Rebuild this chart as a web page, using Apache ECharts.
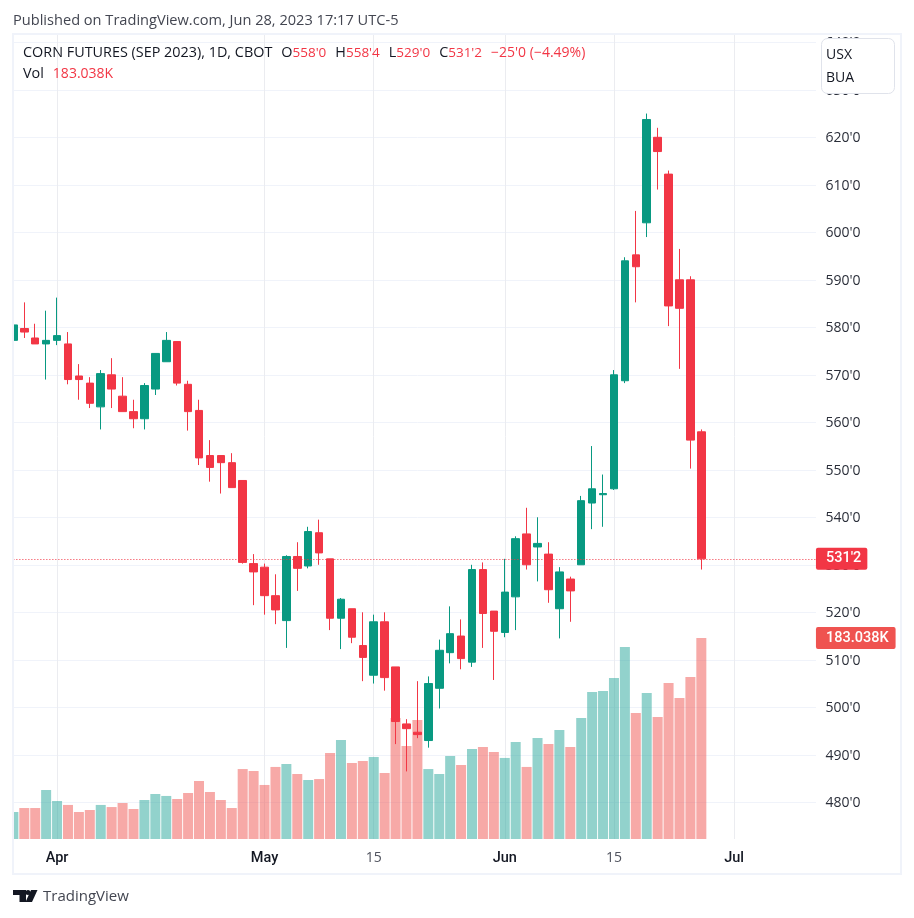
<!DOCTYPE html>
<html lang="en">
<head>
    <meta charset="UTF-8">
    <script src="https://cdn.jsdelivr.net/npm/echarts@6/dist/echarts.min.js"></script>
    <title>Corn futures</title>
    <style>
        html, body { margin: 0; padding: 0; background: #fff; }
    </style>
</head>
<body>
<div id="main" style="width: 914px;height:918px;"></div>
<script type="text/javascript">
    // trading days, the last 11 are empty slots to the right of the last candle
    var dates = [
        'Mar 28', 'Mar 29', 'Mar 30', 'Mar 31',
        'Apr 3', 'Apr 4', 'Apr 5', 'Apr 6',
        'Apr 10', 'Apr 11', 'Apr 12', 'Apr 13', 'Apr 14',
        'Apr 17', 'Apr 18', 'Apr 19', 'Apr 20', 'Apr 21',
        'Apr 24', 'Apr 25', 'Apr 26', 'Apr 27', 'Apr 28',
        'May 1', 'May 2', 'May 3', 'May 4', 'May 5',
        'May 8', 'May 9', 'May 10', 'May 11', 'May 12',
        'May 15', 'May 16', 'May 17', 'May 18', 'May 19',
        'May 22', 'May 23', 'May 24', 'May 25', 'May 26',
        'May 30', 'May 31', 'Jun 1', 'Jun 2',
        'Jun 5', 'Jun 6', 'Jun 7', 'Jun 8', 'Jun 9',
        'Jun 12', 'Jun 13', 'Jun 14', 'Jun 15', 'Jun 16',
        'Jun 20', 'Jun 21', 'Jun 22', 'Jun 23',
        'Jun 26', 'Jun 27', 'Jun 28', 'Jun 29', 'Jun 30',
        'Jul 3', 'Jul 5', 'Jul 6', 'Jul 7',
        'Jul 10', 'Jul 11', 'Jul 12', 'Jul 13', 'Jul 14'
    ];
    var opens = [
        577.25, 579.75, 577.75, 576.5, 577.25, 576.5, 569.75, 568.25, 563.25, 570,
        565.5, 562.25, 560.75, 567, 572.75, 577, 568, 562.5, 553, 553,
        551.5, 547.75, 530.25, 529.5, 523.5, 518.25, 531.75, 529.75, 536.75, 531.25,
        518.75, 520.75, 513, 506.75, 518, 508.5, 496.5, 494.75, 493, 504,
        511.5, 515, 509.5, 529, 520.25, 515.75, 523.25, 536.5, 533.75, 532.25,
        520.75, 527, 530, 543, 544.75, 546, 568.75, 595.25, 602, 620,
        612.25, 590, 590, 558
    ];
    var highs = [
        581.75, 585.25, 580.75, 583.5, 586.25, 579, 572.25, 569.5, 571, 573.5,
        569.5, 564.75, 568.25, 574.5, 579, 577, 568.75, 564.75, 556.25, 553,
        553.5, 547.75, 532.25, 530.25, 528, 532, 534.75, 538, 539.5, 531.25,
        523, 520.75, 520, 519.5, 520, 508.5, 497.5, 505.5, 506.5, 514.25,
        521.25, 518.5, 530, 530.5, 520.25, 531.25, 536, 542, 540, 534.75,
        529.5, 527.5, 544.5, 555, 549, 571, 594.75, 604.5, 625, 622,
        613, 596.5, 590.75, 558.5
    ];
    var lows = [
        574.75, 577.75, 576.5, 569, 576.25, 568, 564.75, 563, 558.5, 563,
        562.25, 558.75, 558.5, 565.75, 572.75, 567.75, 558.25, 551, 547.5, 545,
        546.25, 530.25, 521.5, 519.5, 517.5, 512.5, 524.5, 529.25, 530, 516.25,
        512.25, 513.5, 505.5, 505, 503.5, 492.25, 486.5, 493.5, 491.5, 499.75,
        509.25, 508, 508.5, 512.5, 505.75, 514.75, 516.25, 529, 526.5, 522,
        514.5, 518, 530, 537.5, 538, 545.75, 568.25, 585.25, 599, 609,
        580.25, 571.25, 550.25, 529
    ];
    var closes = [
        580.5, 579, 576.5, 577.25, 578.25, 569, 569, 564, 570.25, 567,
        562.25, 560.75, 567.75, 574.5, 577.25, 568.25, 562.25, 552.5, 550.5, 551.5,
        546.25, 530.5, 528.5, 523.5, 520.5, 531.75, 529.25, 537, 532.5, 518.75,
        522.75, 514.75, 510.5, 518, 506.25, 497, 495.5, 494.25, 505, 512,
        515.5, 510.25, 529, 519.75, 516, 524.25, 535.5, 530, 534.5, 524.75,
        528.5, 524.5, 543.5, 546, 545, 570, 594, 592.75, 623.75, 617,
        584.5, 584, 556.25, 531.25
    ];
    // volume in thousands
    var volumes = [
        24.6, 28.2, 28.2, 44.6, 34.6, 31, 24.6, 26.4, 31, 29.1,
        32.8, 27.3, 35.5, 41, 39.2, 36.4, 41.9, 52.8, 42.8, 35.5,
        28.2, 63.7, 61.9, 49.2, 65.6, 68.3, 59.2, 53.7, 54.6, 78.3,
        90.1, 69.2, 71, 74.7, 60.1, 110.2, 84.7, 108.3, 63.7, 59.2,
        75.6, 67.4, 81.9, 83.8, 79.2, 73.8, 88.3, 65.6, 92, 86.5,
        99.2, 83.8, 110.2, 133.8, 134.8, 146.6, 174.8, 114.7, 132.9, 111.1,
        142, 128.4, 147.5, 183.038
    ];
    var priceTicks = [480, 490, 500, 510, 520, 530, 540, 550, 560, 570, 580, 590, 600, 610, 620, 630, 640];
    var tickDates = ['Apr 3', 'May 1', 'May 15', 'Jun 1', 'Jun 15', 'Jul 3'];
    var tickLabels = ['Apr', 'May', '15', 'Jun', '15', 'Jul'];
    var lastClose = 531.25;
    var lastVolume = 183.038;

    var UP = '#089981', DOWN = '#f23645', GRID = '#f0f3fa', TEXT = '#131722';
    var FONT = '"Open Sans", "Noto Sans", sans-serif';

    var candleData = opens.map(function (o, i) {
        return [o, closes[i], lows[i], highs[i]];
    });
    var volumeData = volumes.map(function (v, i) {
        return {
            value: v,
            itemStyle: { color: closes[i] >= opens[i] ? 'rgba(38,166,154,0.5)' : 'rgba(239,83,80,0.5)' }
        };
    });

    function isTick(index, value) {
        return tickDates.indexOf(value) >= 0;
    }

    var myChart = echarts.init(document.getElementById('main'));

    var legendRich = {
        k: { color: TEXT, fontSize: 14.4, fontWeight: 'normal', fontFamily: FONT },
        v: { color: DOWN, fontSize: 13.5, fontWeight: 'normal', fontFamily: FONT },
        c: { color: DOWN, fontSize: 14, fontWeight: 'normal', fontFamily: FONT },
        s: { width: 9 }
    };

    var option = {
        animation: false,
        backgroundColor: '#fff',
        textStyle: { fontFamily: FONT },
        title: [
            {
                text: 'Published on TradingView.com, Jun 28, 2023 17:17 UTC-5',
                left: 13, top: 13, padding: 0,
                textStyle: { color: '#434651', fontSize: 14.6, fontWeight: 'normal', fontFamily: FONT }
            },
            {
                text: '{k|CORN FUTURES (SEP 2023), 1D, CBOT}{s| }{k|O}{v|558\'0}{s| }{k|H}{v|558\'4}{s| }{k|L}{v|529\'0}{s| }{k|C}{v|531\'2}{s| }{c|\u221225\'0 (\u22124.49%)}',
                left: 23, top: 46, padding: 0,
                textStyle: { fontSize: 14, fontWeight: 'normal', rich: legendRich }
            },
            {
                text: '{k|Vol}{s| }{c|183.038K}',
                left: 23, top: 67, padding: 0,
                textStyle: { fontSize: 14, fontWeight: 'normal', rich: legendRich }
            },
            {
                text: 'TradingView',
                left: 43, top: 889, padding: 0,
                textStyle: { color: '#434651', fontSize: 15, fontWeight: 'normal', fontFamily: FONT }
            }
        ],
        grid: {
            left: 13.37,
            top: 34,
            width: 808.08,
            height: 805
        },
        xAxis: {
            type: 'category',
            boundaryGap: false,
            data: dates,
            axisLine: { show: false },
            axisTick: { show: false, interval: isTick },
            splitLine: {
                show: true,
                interval: isTick,
                lineStyle: { color: '#ebecf0', width: 1 }
            },
            axisLabel: {
                interval: isTick,
                margin: 12,
                fontSize: 14,
                fontFamily: FONT,
                color: TEXT,
                formatter: function (value) {
                    var label = tickLabels[tickDates.indexOf(value)];
                    return label === '15' ? '{d|15}' : '{m|' + label + '}';
                },
                rich: {
                    d: { color: '#50535e', fontSize: 14, fontFamily: FONT },
                    m: { color: TEXT, fontSize: 14.5, fontWeight: 500, fontFamily: 'Roboto' }
                }
            }
        },
        yAxis: [
            {
                type: 'value',
                position: 'right',
                min: 472.27,
                max: 641.75,
                axisLine: { show: false },
                axisTick: { show: false, customValues: priceTicks },
                splitLine: { show: true, lineStyle: { color: GRID, width: 1 } },
                axisLabel: {
                    customValues: priceTicks,
                    margin: 4,
                    formatter: function (v) { return '{p|' + v + "'0}"; },
                    rich: {
                        p: { color: '#2a2e39', fontSize: 14, fontFamily: FONT, padding: [2, 0, 0, 0] }
                    }
                }
            },
            {
                type: 'value',
                min: 0,
                max: 733,
                show: false
            }
        ],
        series: [
            {
                name: 'Vol',
                type: 'bar',
                yAxisIndex: 1,
                barWidth: 10,
                z: 1,
                data: volumeData,
                markLine: {
                    silent: true,
                    symbol: 'none',
                    lineStyle: { color: 'transparent', width: 0 },
                    data: [{ yAxis: lastVolume }],
                    label: {
                        position: 'end',
                        distance: -5.5,
                        formatter: '183.038K',
                        color: '#fff',
                        backgroundColor: '#ef5350',
                        borderRadius: 2,
                        padding: [4, 7, 3, 10],
                        fontSize: 14.5,
                        fontFamily: 'Roboto',
                        fontWeight: 500
                    }
                }
            },
            {
                name: 'CORN',
                type: 'candlestick',
                barWidth: 8,
                z: 3,
                itemStyle: {
                    color: UP,
                    color0: DOWN,
                    borderColor: UP,
                    borderColor0: DOWN,
                    borderWidth: 1
                },
                data: candleData,
                markLine: {
                    silent: true,
                    symbol: 'none',
                    lineStyle: { color: DOWN, type: [1, 2], width: 1 },
                    data: [{ yAxis: lastClose }],
                    label: {
                        position: 'end',
                        distance: -5.5,
                        formatter: "531'2",
                        color: '#fff',
                        backgroundColor: DOWN,
                        borderRadius: 2,
                        padding: [4, 6, 3, 10],
                        fontSize: 14.5,
                        fontFamily: 'Roboto',
                        fontWeight: 500
                    }
                }
            }
        ],
        graphic: {
            elements: [
                // hides the gridlines past the plot edge
                { type: 'rect', z: 1, shape: { x: 816, y: 35, width: 6, height: 804 }, style: { fill: '#fff' } },
                // the first candle and bar are cut by the left edge of the plot
                { type: 'rect', z: 10, shape: { x: 0, y: 35, width: 13, height: 838 }, style: { fill: '#fff' } },
                // outer frame
                { type: 'rect', z: 11, shape: { x: 13, y: 34, width: 888, height: 840 }, style: { fill: 'none', stroke: GRID, lineWidth: 2 } },
                // unit / currency box
                { type: 'rect', z: 20, shape: { x: 821.5, y: 38.5, width: 73, height: 55, r: 6 }, style: { fill: '#fff', stroke: '#e0e3eb', lineWidth: 1 } },
                { type: 'text', z: 21, x: 826, y: 48, style: { text: 'USX', fill: TEXT, font: '14px ' + FONT } },
                { type: 'text', z: 21, x: 826, y: 71, style: { text: 'BUA', fill: TEXT, font: '14px ' + FONT } },
                // logo
                { type: 'polygon', z: 21, shape: { points: [[13, 890], [26, 890], [26, 902], [19.5, 902], [19.5, 895], [13, 895]] }, style: { fill: TEXT } },
                { type: 'polygon', z: 21, shape: { points: [[31, 890], [37.5, 890], [32, 902], [25.5, 902]] }, style: { fill: TEXT } },
                { type: 'circle', z: 21, shape: { cx: 28, cy: 892.5, r: 2.5 }, style: { fill: TEXT } }
            ]
        }
    };
    myChart.setOption(option);
</script>
</body>
</html>
